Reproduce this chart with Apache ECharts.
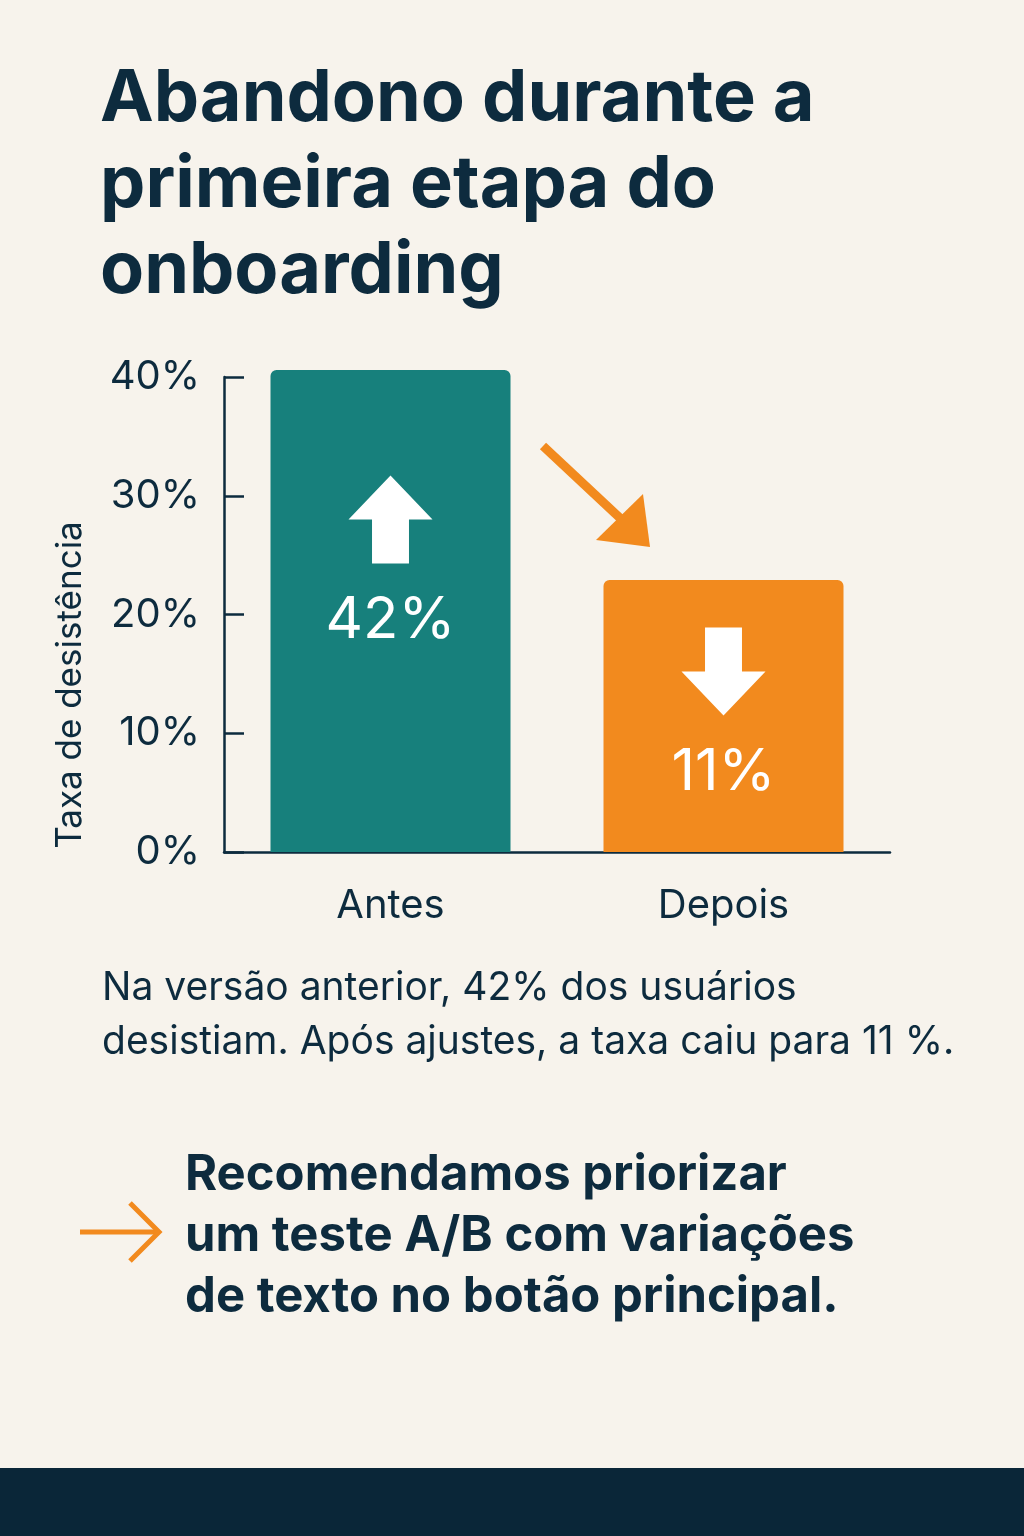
<!DOCTYPE html>
<html><head><meta charset="utf-8">
<script src="https://cdn.jsdelivr.net/npm/echarts@6/dist/echarts.min.js"></script>
<style>html,body{margin:0;padding:0;background:#f7f3ec;}#c{width:1024px;height:1536px;}</style>
</head><body><div id="c"></div>
<script>
const categories = ['Antes', 'Depois'];
const barHeights = [40.6, 22.9];
const barLabels = ['42%', '11%'];
const barColors = ['#17807c', '#f28a1e'];
const yTicks = [0, 10, 20, 30, 40];
const arrowPos = [28, 15.2];
const labelPos = [19.5, 6.7];

const dark = '#0d2b3e';
const upArrow = 'path://M50,0 L100,50 L72,50 L72,100 L28,100 L28,50 L0,50 Z';
const downArrow = 'path://M28,0 L72,0 L72,50 L100,50 L50,100 L0,50 L28,50 Z';

const chart = echarts.init(document.getElementById('c'));
chart.setOption({
  backgroundColor: '#f7f3ec',
  animation: false,
  grid: {left: 224, right: 134, top: 377, bottom: 684},
  xAxis: {
    type: 'category', data: categories,
    axisLine: {lineStyle: {color: dark, width: 2.5}},
    axisTick: {show: false},
    axisLabel: {color: dark, fontSize: 40, margin: 34, fontFamily: 'Inter'}
  },
  yAxis: {
    type: 'value', min: 0, max: 40, interval: 10,
    axisLine: {show: true, lineStyle: {color: dark, width: 2.5}},
    axisTick: {show: true, inside: true, length: 20, lineStyle: {color: dark, width: 2.5}},
    splitLine: {show: false},
    axisLabel: {color: dark, fontSize: 40, margin: 24, fontFamily: 'Inter', formatter: v => yTicks.includes(v) ? v + '%' : ''}
  },
  series: [{
    type: 'bar', barWidth: 240, clip: false,
    data: barHeights.map((v, i) => ({value: v, itemStyle: {color: barColors[i], borderRadius: [6, 6, 0, 0]}})),
    markPoint: {
      silent: true,
      data: [
        {coord: [0, arrowPos[0]], symbol: upArrow, symbolSize: [84, 88], itemStyle: {color: '#fff'}, label: {show: false}},
        {coord: [1, arrowPos[1]], symbol: downArrow, symbolSize: [84, 88], itemStyle: {color: '#fff'}, label: {show: false}},
        {coord: [0, labelPos[0]], symbol: 'circle', symbolSize: 1, itemStyle: {color: 'transparent'},
          label: {show: true, formatter: barLabels[0], color: '#fff', fontSize: 58, fontFamily: 'Inter', position: 'inside'}},
        {coord: [1, labelPos[1]], symbol: 'circle', symbolSize: 1, itemStyle: {color: 'transparent'},
          label: {show: true, formatter: barLabels[1], color: '#fff', fontSize: 58, fontFamily: 'Inter', position: 'inside'}}
      ]
    }
  }],
  graphic: [
    {type: 'text', left: 100, top: 56, style: {text: 'Abandono durante a\nprimeira etapa do\nonboarding', fill: dark, font: 'bold 72px Inter', lineHeight: 86}},
    {type: 'text', x: 70, y: 685, rotation: Math.PI / 2, style: {text: 'Taxa de desistência', fill: dark, font: '35px Inter', align: 'center', verticalAlign: 'middle'}},
    {type: 'line', shape: {x1: 543, y1: 446, x2: 636, y2: 533}, style: {stroke: '#f28a1e', lineWidth: 9}},
    {type: 'polygon', shape: {points: [[650, 547], [596, 540], [643, 494]]}, style: {fill: '#f28a1e'}},
    {type: 'text', left: 102, top: 961, style: {text: 'Na versão anterior, 42% dos usuários\ndesistiam. Após ajustes, a taxa caiu para 11 %.', fill: dark, font: '39px Inter', lineHeight: 54}},
    {type: 'text', left: 185, top: 1145, style: {text: 'Recomendamos priorizar\num teste A/B com variações\nde texto no botão principal.', fill: dark, font: 'bold 49px Inter', lineHeight: 61}},
    {type: 'polyline', shape: {points: [[80, 1232], [158, 1232]]}, style: {stroke: '#f28a1e', lineWidth: 5}},
    {type: 'polyline', shape: {points: [[130, 1203], [159, 1232], [130, 1261]]}, style: {stroke: '#f28a1e', lineWidth: 5, fill: null}},
    {type: 'rect', shape: {x: 0, y: 1468, width: 1024, height: 68}, style: {fill: '#0a2638'}}
  ]
});
</script></body></html>
